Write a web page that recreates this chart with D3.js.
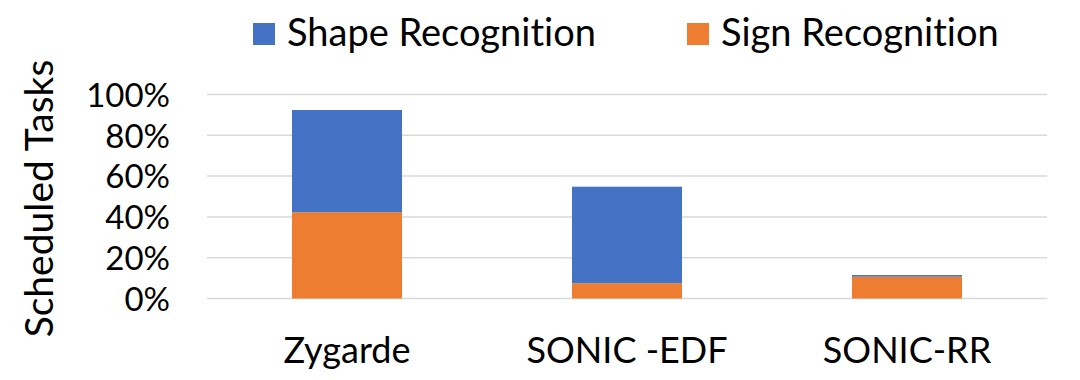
<!DOCTYPE html>
<html>
<head>
<meta charset="utf-8">
<script src="https://cdn.jsdelivr.net/npm/d3@7"></script>
<style>
  body { margin: 0; background: #fff; }
  svg text { font-family: Lato, "Open Sans", sans-serif; fill: #000; font-variant-ligatures: none; font-feature-settings: "liga" 0; }
</style>
</head>
<body>
<div id="chart"></div>
<script>
// data (percent of tasks)
const systems = ["Zygarde", "SONIC -EDF", "SONIC-RR"];
const signRecognition = [42.3, 7.5, 10.7];
const shapeRecognition = [50.1, 47.3, 0.8];
const yTicks = [0, 20, 40, 60, 80, 100];
const seriesNames = ["Sign Recognition", "Shape Recognition"];
const seriesColors = ["#ED7D31", "#4472C4"];

const W = 1080, H = 380;
const margin = {top: 94.5, right: 33, bottom: 81.5, left: 207};

const svg = d3.select("#chart").append("svg")
  .attr("width", W).attr("height", H);

const rows = systems.map((s, i) => ({
  name: s,
  "Sign Recognition": signRecognition[i],
  "Shape Recognition": shapeRecognition[i]
}));

const x = d3.scaleBand()
  .domain(systems)
  .range([margin.left, W - margin.right])
  .paddingInner(0.607)
  .paddingOuter(0.3035);

const y = d3.scaleLinear()
  .domain([0, 100])
  .range([H - margin.bottom, margin.top]);

// gridlines
svg.append("g")
  .selectAll("line")
  .data(yTicks)
  .join("line")
  .attr("x1", margin.left).attr("x2", W - margin.right)
  .attr("y1", d => y(d)).attr("y2", d => y(d))
  .attr("stroke", "#d9d9d9")
  .attr("stroke-width", 1.5);

// y axis labels
const yAxis = svg.append("g")
  .attr("transform", "translate(" + margin.left + ",0)")
  .call(d3.axisLeft(y).tickValues(yTicks).tickFormat(d => d + "%").tickSize(0).tickPadding(37));
yAxis.select(".domain").remove();
yAxis.selectAll("text")
  .style("font-family", "Lato, sans-serif")
  .style("font-size", "33px")
  .attr("dy", "0.36em");

// stacked bars
const stack = d3.stack().keys(seriesNames)(rows);
svg.append("g")
  .selectAll("g")
  .data(stack)
  .join("g")
  .attr("fill", (d, i) => seriesColors[i])
  .selectAll("rect")
  .data(d => d)
  .join("rect")
  .attr("x", d => x(d.data.name))
  .attr("width", x.bandwidth())
  .attr("y", d => y(d[1]))
  .attr("height", d => y(d[0]) - y(d[1]));

// x axis labels
const xAxis = svg.append("g")
  .attr("transform", "translate(0," + (H - margin.bottom) + ")")
  .call(d3.axisBottom(x).tickSize(0).tickPadding(39));
xAxis.select(".domain").remove();
xAxis.selectAll("text")
  .style("font-family", "Lato, sans-serif")
  .style("font-size", "36px");

// y title
svg.append("text")
  .attr("transform", "translate(53," + y(49) + ") rotate(-90)")
  .attr("text-anchor", "middle")
  .style("font-size", "39px")
  .text("Scheduled Tasks");

// legend
const legendItems = [
  {name: "Shape Recognition", color: seriesColors[1], x: 253},
  {name: "Sign Recognition", color: seriesColors[0], x: 687}
];
const lg = svg.append("g").selectAll("g")
  .data(legendItems)
  .join("g")
  .attr("transform", d => "translate(" + d.x + ",23)");
lg.append("rect")
  .attr("width", 22).attr("height", 22)
  .attr("fill", d => d.color);
lg.append("text")
  .attr("x", 34).attr("y", 23)
  .style("font-size", "38px")
  .text(d => d.name);
</script>
</body>
</html>
